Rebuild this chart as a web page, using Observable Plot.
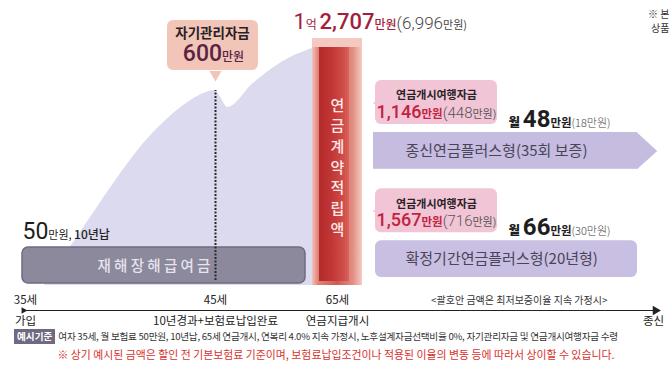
<!DOCTYPE html>
<html><head><meta charset="utf-8">
<script src="https://cdn.jsdelivr.net/npm/d3@7"></script>
<script src="https://cdn.jsdelivr.net/npm/@observablehq/plot@0.6"></script>
<style>
html,body{margin:0;padding:0;background:#fff;}
#wrap{position:relative;width:672px;height:372px;overflow:hidden;font-family:"Noto Sans CJK KR",sans-serif;}
#chart{position:relative;width:672px;height:322px;}
#chart svg{position:absolute;left:0;top:0;}
#foot1{position:absolute;left:14px;top:329px;font-size:9.6px;line-height:15px;color:#333;white-space:nowrap;letter-spacing:-0.25px;}
#foot1 .tag{display:inline-block;background:#6f6a82;color:#fff;padding:0 3px;margin-right:3px;font-weight:700;letter-spacing:0;}
#foot2{position:absolute;left:0;width:672px;top:346px;text-align:center;font-size:10.9px;line-height:16px;color:#d8312c;white-space:nowrap;}
</style></head>
<body><div id="wrap"><div id="chart"></div>
<div id="foot1"><span class="tag">예시기준</span>여자 35세, 월 보험료 50만원, 10년납, 65세 연금개시, 연복리 4.0% 지속 가정시, 노후설계자금선택비율 0%, 자기관리자금 및 연금개시여행자금 수령</div>
<div id="foot2">※ 상기 예시된 금액은 할인 전 기본보험료 기준이며, 보험료납입조건이나 적용된 이율의 변동 등에 따라서 상이할 수 있습니다.</div>
</div>
<script>
const KR = '"Noto Sans CJK KR", sans-serif';
const NUM = 'Roboto, sans-serif';

// ---- data ----
const milestoneAges = [35, 45, 65, 100];
const milestoneAgeLabels = ["35세", "45세", "65세", ""];
const milestoneEvents = ["가입", "10년경과+보험료납입완료", "연금지급개시", "종신"];

const reserveAges   = [36, 37.6, 42, 43.7, 44.5, 45, 45.8, 47, 51.2, 57.3, 60.9, 65];
const reserveValues = [0, 2315, 8130, 9520, 9930, 10030, 9700, 9160, 10390, 11730, 12190, 12707];

const startAge = 35, payEndAge = 45, annuityAge = 65, lifeEndAge = 100;
const monthlyPremium = 50, payYears = 10;
const selfMgmtFund = 600;
const totalReserve = 12707, totalReserveMin = 6996;

const annuityTypes = ["종신연금플러스형(35회 보증)", "확정기간연금플러스형(20년형)"];
const travelFund = [1146, 1567];
const travelFundMin = [448, 716];
const monthlyAnnuity = [48, 66];
const monthlyAnnuityMin = [18, 30];

// ---- helpers ----
const fmt = d3.format(",");
const ctx = document.createElement("canvas").getContext("2d");
function textWidth(s) {
  ctx.font = `${s.weight || 400} ${s.size}px ${s.family || KR}`;
  return ctx.measureText(s.text).width;
}
function rich(data, {x, y, dx = 0, dy = 0, anchor = "start"}, segments) {
  const widths = segments.map(textWidth);
  const total = d3.sum(widths);
  let off = anchor === "middle" ? -total / 2 : anchor === "end" ? -total : 0;
  return segments.map((s, i) => {
    const m = Plot.text(data, {x, y, text: () => s.text, dx: dx + off, dy, textAnchor: "start", lineAnchor: "bottom",
      fontSize: s.size, fontWeight: s.weight || 400, fontFamily: s.family || KR, fill: s.fill || "#222"});
    off += widths[i];
    return m;
  });
}

const xScale = {type: "linear", domain: milestoneAges, range: [25, 215, 337, 653], axis: null};

const reserve = reserveAges.map((a, i) => ({age: a, value: reserveValues[i]}));
const peak = reserve.find(d => d.age === payEndAge);
const pillar = [{age: annuityAge, value: totalReserve}];
const start = [{age: startAge, value: 0}];
const milestones = milestoneAges.map((a, i) => ({age: a, label: milestoneAgeLabels[i], event: milestoneEvents[i]}));
const eok = Math.floor(totalReserve / 10000), rest = totalReserve % 10000;

const main = Plot.plot({
  width: 672, height: 322, margin: 0,
  x: xScale,
  y: {type: "linear", domain: [0, totalReserve], range: [285, 38], axis: null},
  style: {fontFamily: KR, background: "none", overflow: "visible"},
  marks: [
    Plot.areaY(reserve, {x: "age", y: "value", fill: "#dcdaee", curve: "monotone-x"}),
    // disability benefit bar
    Plot.rect([{a: startAge, b: annuityAge}], {x1: "a", x2: "b", y1: 0, y2: 0, insetLeft: -3, insetRight: 32, insetTop: -38, insetBottom: 2,
      fill: "#8d899c", stroke: "#6f6b80", strokeWidth: 1.5, rx: 6}),
    Plot.text(start, {x: "age", y: "value", text: () => "재해장해급여금".split("").join(" "), textAnchor: "start", dx: 72, dy: -19,
      fontSize: 14.5, fill: "#e6e4ee", fontWeight: 500}),
    rich(start, {x: "age", y: "value", dx: -3, dy: -47}, [
      {text: String(monthlyPremium), size: 23, family: NUM, fill: "#1d1d1d"},
      {text: "만원, ", size: 11, fill: "#222"},
      {text: `${payYears}년납`, size: 12, fill: "#222", weight: 500}
    ]),
    // dotted line at 45
    Plot.ruleX([peak], {x: "age", y1: 0, y2: "value", insetTop: -5, stroke: "#2a2a2a", strokeWidth: 2, strokeDasharray: "2,1.5"}),
    // self management callout
    Plot.rect([peak], {x1: "age", x2: "age", y1: "value", y2: "value", insetLeft: -48, insetRight: -43, insetTop: -70, insetBottom: 20,
      fill: "#f1c6b8", rx: 6}),
    Plot.dot([peak], {x: "age", y: "value", dy: -16, symbol: "triangle", rotate: 180, r: 4.5, fill: "#f1c6b8"}),
    Plot.text([peak], {x: "age", y: "value", text: () => "자기관리자금", dx: -3, dy: -57, fontSize: 13.5, fontWeight: 700, fill: "#2a2024"}),
    rich([peak], {x: "age", y: "value", dx: -2, dy: -30, anchor: "middle"}, [
      {text: String(selfMgmtFund), size: 23, family: NUM, fill: "#5a2342", weight: 500},
      {text: "만원", size: 12, fill: "#5a2342", weight: 500}
    ]),
    // pillar
    Plot.rect(pillar, {x1: "age", x2: "age", y1: 0, y2: "value", insetLeft: -25, insetRight: -25, fill: "url(#pillarOuter)"}),
    Plot.rect(pillar, {x1: "age", x2: "age", y1: "value", y2: "value", insetLeft: -25, insetRight: -25, insetTop: 0, insetBottom: -9, fill: "#f3c9c1"}),
    Plot.rect(pillar, {x1: "age", x2: "age", y1: 0, y2: "value", insetLeft: -18, insetRight: -12, insetTop: 9, insetBottom: 4, fill: "url(#pillarInner)"}),
    Plot.text(pillar, {x: "age", y: d => d.value / 2, text: () => "연금계약적립액".split("").join("\n"), dy: 4, lineHeight: 1.38,
      fontSize: 15, fontWeight: 500, fill: "#fde9e7"}),
    rich(pillar, {x: "age", y: "value", dx: -44, dy: -10}, [
      {text: String(eok), size: 22, family: NUM, fill: "#a31f3d"},
      {text: "억 ", size: 12, fill: "#a31f3d"},
      {text: fmt(rest), size: 22, family: NUM, fill: "#a31f3d", weight: 500},
      {text: "만원", size: 12, fill: "#a31f3d", weight: 500},
      {text: "(" + fmt(totalReserveMin), size: 17, family: NUM, fill: "#444", weight: 300},
      {text: "만원)", size: 11, fill: "#444"}
    ]),
    // timeline
    Plot.ruleY([0], {x1: startAge, x2: lifeEndAge, dy: 25, insetLeft: -3, insetRight: -2, stroke: "#222", strokeWidth: 1.2}),
    Plot.dot([lifeEndAge], {x: d => d, y: 0, dx: 2, dy: 25, symbol: "triangle", rotate: 90, r: 3.5, fill: "#222"}),
    Plot.dot([startAge], {x: d => d, y: 0, dx: -2, dy: 25, symbol: "triangle", rotate: 90, r: 2.5, fill: "#222"}),
    Plot.text(milestones, {x: "age", y: 0, text: "label", dy: 15, fontSize: 11.5, fill: "#222"}),
    Plot.text(milestones, {x: "age", y: 0, text: "event", dy: 36, fontSize: 11.5, fill: "#222"}),
    Plot.text([lifeEndAge], {x: d => d, y: 0, text: () => "<괄호안 금액은 최저보증이율 지속 가정시>", textAnchor: "end", dx: -46, dy: 15,
      fontSize: 10, fill: "#333"}),
    // top-right note
    Plot.text(["※ 본\n상품"], {frameAnchor: "top-right", text: d => d, textAnchor: "end", lineAnchor: "top", dx: -3, dy: 8,
      fontSize: 10, lineHeight: 1.4, fill: "#333"})
  ]
});

// gradients for the pillar
const defs = d3.select(main).insert("defs", ":first-child");
function grad(id, stops) {
  const g = defs.append("linearGradient").attr("id", id).attr("x1", 0).attr("x2", 1).attr("y1", 0).attr("y2", 0);
  stops.forEach(([o, c]) => g.append("stop").attr("offset", o).attr("stop-color", c));
}
grad("pillarOuter", [[0, "#f2c4bd"], [0.12, "#e08478"], [0.5, "#cf5a52"], [0.82, "#e39085"], [1, "#f4cbc3"]]);
grad("pillarInner", [[0, "#b42a2c"], [0.45, "#c23836"], [0.8, "#cf4c48"], [1, "#d9645e"]]);

// ---- annuity rows ----
const annuity = annuityTypes.map((t, i) => ({type: t, start: annuityAge, end: lifeEndAge, travel: travelFund[i], travelMin: travelFundMin[i],
  monthly: monthlyAnnuity[i], monthlyMin: monthlyAnnuityMin[i]}));
const bandRange = [132, 277], padIn = 0.66;
const bw = (bandRange[1] - bandRange[0]) / (2 - padIn) * (1 - padIn);
const arrowTip = {draw(context, size) { const r = Math.sqrt(size / Math.PI); context.moveTo(0, -r); context.lineTo(r * 1.1, 0); context.lineTo(0, r); context.closePath(); }};

const annMarks = [
  Plot.barX([annuity[0]], {x1: "start", x2: "end", y: "type", insetLeft: 36, insetRight: 16, fill: "#c5bcdf"}),
  Plot.dot([annuity[0]], {x: "end", y: "type", dx: -16.5, symbol: arrowTip, r: bw / 2, fill: "#c5bcdf"}),
  Plot.barX([annuity[1]], {x1: "start", x2: "end", y: "type", insetLeft: 38, insetRight: 16, fill: "#c8bfe2", rx: 6}),
  Plot.text(annuity, {x: "start", y: "type", text: "type", dx: 68, textAnchor: "start", fontSize: 15, fill: "#4a4458"}),
  // callouts
  Plot.barX(annuity, {x1: "start", x2: "start", y: "type", insetLeft: 38, insetRight: -160, insetTop: -52, insetBottom: bw + 8, fill: "#f2c5d6", rx: 6}),
  Plot.dot(annuity, {x: "start", y: "type", dx: 40, dy: -48, symbol: "triangle", rotate: -90, r: 3, fill: "#f2c5d6"}),
  Plot.text(annuity, {x: "start", y: "type", text: () => "연금개시여행자금", dx: 99, dy: -55, fontSize: 11, fontWeight: 700, fill: "#2a2226"})
];
annuity.forEach(d => {
  annMarks.push(rich([d], {x: "start", y: "type", dx: 99, dy: -33, anchor: "middle"}, [
    {text: fmt(d.travel), size: 18, family: NUM, fill: "#c1243f", weight: 500},
    {text: "만원", size: 11.5, fill: "#c1243f", weight: 700},
    {text: "(" + fmt(d.travelMin), size: 15, family: NUM, fill: "#555", weight: 300},
    {text: "만원)", size: 11, fill: "#555"}
  ]));
  annMarks.push(rich([d], {x: "start", y: "type", dx: 171, dy: -24}, [
    {text: "월 ", size: 12.5, fill: "#1e1e1e", weight: 900},
    {text: String(d.monthly), size: 24, family: NUM, fill: "#1e1e1e", weight: 700},
    {text: "만원", size: 11.5, fill: "#1e1e1e", weight: 700},
    {text: "(" + d.monthlyMin + "만원)", size: 11, fill: "#444", weight: 300}
  ]));
});

const ann = Plot.plot({
  width: 672, height: 322, margin: 0,
  x: xScale,
  y: {type: "band", domain: annuityTypes, range: bandRange, paddingInner: padIn, paddingOuter: 0, round: false, axis: null},
  style: {fontFamily: KR, background: "none", overflow: "visible"},
  marks: annMarks
});

const chart = document.getElementById("chart");
chart.append(main);
chart.append(ann);
</script></body></html>
